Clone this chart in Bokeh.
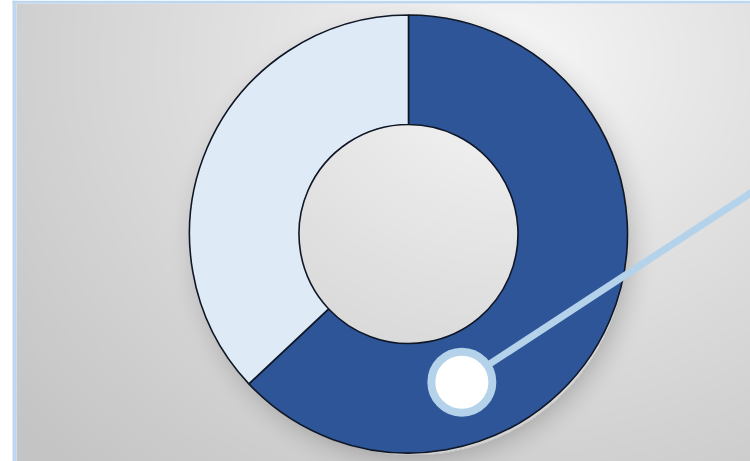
import numpy as np
from bokeh.plotting import figure
from bokeh.models import Range1d
from bokeh.embed import file_html
from bokeh.resources import INLINE

# ---- data ----
categories = ["Share A", "Share B"]
values = [63, 37]
colors = ["#2E5597", "#DEEAF6"]
marker_value = [44.5]   # position of the highlight marker along the ring (percent)

# ---- layout (pixels) ----
W, H = 750, 461
CX, CY = 408, H - 233.5
R_OUT, R_IN = 219, 109.5

p = figure(width=W, height=H, x_range=Range1d(0, W), y_range=Range1d(0, H),
           output_backend="svg", toolbar_location=None, min_border=0)
p.axis.visible = False
p.grid.visible = False
p.outline_line_color = None
p.background_fill_color = "white"
p.border_fill_color = "white"

# ---- background gradient with donut shadow ----
bx0, by0 = 16, 0
bw, bh = W - bx0, H - 3
ys, xs = np.mgrid[0:bh, 0:bw]
sx = xs + bx0           # screen x
sy = ys + 3             # screen y (top = 3)
d = np.hypot((sx - 510) * 0.85, sy - 60)
g = 248 - 52 * np.clip(d / 560.0, 0, 1) ** 0.9
ds = np.hypot(sx - 413, sy - 242)
band = np.clip(1 - (ds - 212) / 34.0, 0, 1)
band[ds < 212] = 0
g = g - 32 * band ** 2
g = np.clip(g, 0, 255).astype(np.uint32)
img = (255 << 24) | (g << 16) | (g << 8) | g
img = np.flipud(img).astype(np.uint32)
p.image_rgba(image=[img], x=bx0, y=by0, dw=bw, dh=bh)

# ---- frame lines ----
p.quad(left=12, right=16, bottom=0, top=H, fill_color="#BDD7EE", line_color=None)
p.quad(left=12, right=W, bottom=H - 3, top=H, fill_color="#BDD7EE", line_color=None)

# ---- donut ----
total = sum(values)
cum = np.cumsum([0] + values)
starts = [np.pi / 2 - 2 * np.pi * cum[i] / total for i in range(len(values))]
ends = [np.pi / 2 - 2 * np.pi * cum[i + 1] / total for i in range(len(values))]
p.annular_wedge(x=CX, y=CY, inner_radius=R_IN, outer_radius=R_OUT,
                start_angle=starts, end_angle=ends, direction="clock",
                fill_color=colors, line_color="#0F1626", line_width=1.6)

# ---- marker and leader line ----
ang = np.pi / 2 - 2 * np.pi * marker_value[0] / 100.0
rm = 157.5
mx, my = CX + rm * np.cos(ang), CY + rm * np.sin(ang)
lead = np.arctan(0.655)
p.line(x=[mx, mx + 420 * np.cos(lead)], y=[my, my + 420 * np.sin(lead)],
       line_color="#B4D2EA", line_width=7)
p.scatter(x=[mx], y=[my], size=61, marker="circle", fill_color="white",
          line_color="#B4D2EA", line_width=8)

open("out.html", "w").write(file_html(p, INLINE))
